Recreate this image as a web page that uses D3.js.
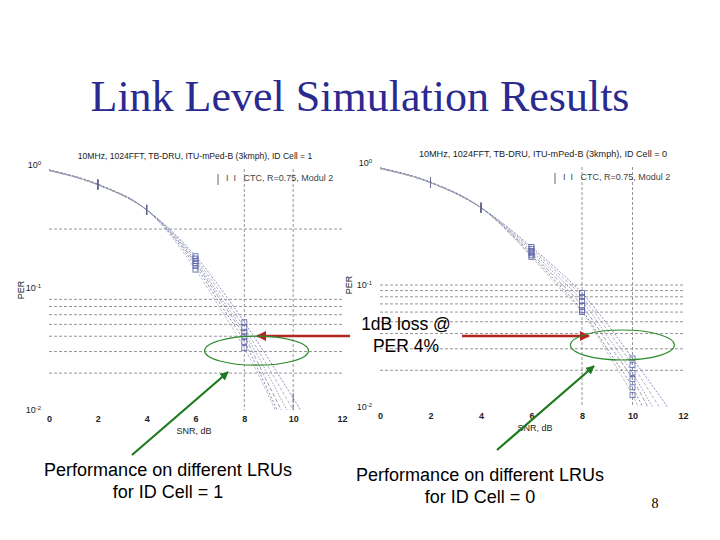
<!DOCTYPE html>
<html><head><meta charset="utf-8">
<script src="https://cdn.jsdelivr.net/npm/d3@7"></script>
<style>body{margin:0;background:#fff}svg{display:block}</style>
</head><body><svg id="s" width="720" height="540"></svg>
<script>
// ---------- data ----------
const snrPoints = [0, 2, 4, 6, 7, 8, 9, 10, 11, 12];
const xTickValues = [0, 2, 4, 6, 8, 10, 12];
const yTickValues = [1, 0.1, 0.01];
const yTickExponents = ["0", "-1", "-2"];

const cell1Per = [
  [0.91, 0.69, 0.43, 0.180, 0.100, 0.052, 0.026, 0.0125, 0.006, 0.003],
  [0.91, 0.69, 0.43, 0.172, 0.092, 0.047, 0.022, 0.0100, 0.0045, 0.002],
  [0.91, 0.69, 0.43, 0.165, 0.085, 0.043, 0.019, 0.0080, 0.0035, 0.0015],
  [0.90, 0.69, 0.43, 0.158, 0.080, 0.040, 0.016, 0.0065, 0.003, 0.0012],
  [0.91, 0.70, 0.43, 0.150, 0.074, 0.036, 0.014, 0.0052, 0.002, 0.001],
  [0.90, 0.69, 0.43, 0.140, 0.068, 0.032, 0.013, 0.0045, 0.0015, 0.001]
];
const cell0Per = [
  [0.91, 0.69, 0.43, 0.205, 0.135, 0.086, 0.048, 0.025, 0.013, 0.0065],
  [0.91, 0.69, 0.43, 0.198, 0.128, 0.080, 0.043, 0.022, 0.0105, 0.005],
  [0.91, 0.69, 0.43, 0.190, 0.120, 0.074, 0.038, 0.019, 0.0085, 0.004],
  [0.90, 0.69, 0.43, 0.182, 0.112, 0.068, 0.034, 0.017, 0.0070, 0.003],
  [0.91, 0.70, 0.43, 0.175, 0.105, 0.062, 0.030, 0.0145, 0.0055, 0.002],
  [0.90, 0.69, 0.43, 0.170, 0.100, 0.060, 0.028, 0.0125, 0.0045, 0.0015]
];
const cell1TickSnr = [2, 4, 10];
const cell1SquareSnr = [6, 8];
const cell0TickSnr = [2, 4];
const cell0SquareSnr = [6, 8, 10];
const cell1GridPer = [0.3, 0.08, 0.07, 0.06, 0.05, 0.04, 0.03, 0.02];
const cell0GridPer = [0.1, 0.09, 0.08, 0.07, 0.06, 0.05, 0.04, 0.03, 0.02];
const vGridSnr = [8, 10];

const slideTitle = "Link Level Simulation Results";
const cell1Title = "10MHz, 1024FFT, TB-DRU, ITU-mPed-B (3kmph), ID Cell = 1";
const cell0Title = "10MHz, 1024FFT, TB-DRU, ITU-mPed-B (3kmph), ID Cell = 0";
const legendText = "CTC, R=0.75, Modul 2";
const xLabel = "SNR, dB";
const yLabel = "PER";
const noteLines = ["1dB loss @", "PER 4%"];
const cell1Caption = ["Performance on different LRUs", "for ID Cell = 1"];
const cell0Caption = ["Performance on different LRUs", "for ID Cell = 0"];
const pageNumber = "8";

// ---------- drawing ----------
const svg = d3.select("#s");
const defs = svg.append("defs");
function marker(id, color) {
  defs.append("marker").attr("id", id).attr("viewBox", "0 0 10 10")
    .attr("refX", 9).attr("refY", 5).attr("markerWidth", 4).attr("markerHeight", 4)
    .attr("orient", "auto-start-reverse").attr("markerUnits", "strokeWidth")
    .append("path").attr("d", "M0,0L10,5L0,10z").attr("fill", color);
}
marker("ar", "#b3261e");
marker("ag", "#1e7a1e");

svg.append("text").attr("x", 360).attr("y", 111).attr("text-anchor", "middle")
  .attr("font-family", "Liberation Serif, Times New Roman, serif").attr("font-size", 44)
  .attr("fill", "#2a2a90").text(slideTitle);

const seriesColors = ["#6b73b6", "#a0a0a0", "#7a80c0", "#8c8c8c", "#5c64b0", "#b0b0b0"];
const seriesDash = ["2,1.5", "3,2", "1.5,1.5", "4,2", "2,2", "3,1.5"];

function chart(cfg) {
  const x = d3.scaleLinear().domain([0, 12]).range([cfg.x0, cfg.x1]);
  const y = d3.scaleLog().domain([1, 0.01]).range([cfg.yTop, cfg.yBot]);
  const g = svg.append("g");
  const clipId = "c" + cfg.id;
  defs.append("clipPath").attr("id", clipId).append("rect")
    .attr("x", cfg.x0).attr("y", cfg.yTop).attr("width", cfg.x1 - cfg.x0).attr("height", cfg.yBot - cfg.yTop);

  // grid
  g.selectAll(".hg").data(cfg.grid).join("line")
    .attr("x1", cfg.x0).attr("x2", cfg.x1).attr("y1", d => y(d)).attr("y2", d => y(d))
    .attr("stroke", "#8a8a8a").attr("stroke-width", 0.9).attr("stroke-dasharray", "3,2");
  g.selectAll(".vg").data(vGridSnr).join("line")
    .attr("x1", d => x(d)).attr("x2", d => x(d)).attr("y1", cfg.yTop + 4).attr("y2", cfg.yBot)
    .attr("stroke", "#8a8a8a").attr("stroke-width", 0.9).attr("stroke-dasharray", "3,2");

  // curves
  const line = d3.line().x((d, i) => x(snrPoints[i])).y(d => y(d)).curve(d3.curveMonotoneX);
  const cg = g.append("g").attr("clip-path", `url(#${clipId})`);
  cg.selectAll("path").data(cfg.per).join("path")
    .attr("d", line).attr("fill", "none")
    .attr("stroke", (d, i) => seriesColors[i]).attr("stroke-width", 0.8)
    .attr("stroke-dasharray", (d, i) => seriesDash[i]);

  // markers
  const pts = (snrs) => snrs.flatMap(s => cfg.per.map(p => ({ s, v: p[snrPoints.indexOf(s)] })));
  cg.selectAll(".tk").data(pts(cfg.ticks)).join("line")
    .attr("x1", d => x(d.s)).attr("x2", d => x(d.s))
    .attr("y1", d => y(d.v) - 5).attr("y2", d => y(d.v) + 5)
    .attr("stroke", "#666a90").attr("stroke-width", 0.9);
  cg.selectAll(".sq").data(pts(cfg.squares)).join("rect")
    .attr("x", d => x(d.s) - 2.5).attr("y", d => y(d.v) - 2.5).attr("width", 5).attr("height", 5)
    .attr("fill", "none").attr("stroke", "#5a62a8").attr("stroke-width", 0.8);

  // axes
  const ax = g.append("g").attr("transform", `translate(0,${cfg.yBot + 3})`)
    .call(d3.axisBottom(x).tickValues(xTickValues).tickSize(0).tickFormat(d3.format("d")));
  ax.select(".domain").remove();
  ax.selectAll("text").attr("font-family", "Liberation Sans, Arial, sans-serif")
    .attr("font-size", 9).attr("font-weight", "bold").attr("fill", "#222");

  const ay = g.append("g").attr("transform", `translate(${cfg.x0 - 5},0)`)
    .call(d3.axisLeft(y).tickValues(yTickValues).tickSize(0).tickFormat(() => ""));
  ay.select(".domain").remove();
  ay.selectAll("text").each(function (d, i) {
    const t = d3.select(this).attr("font-family", "Liberation Sans, Arial, sans-serif")
      .attr("font-size", 9).attr("fill", "#222").attr("dy", "0.32em");
    t.append("tspan").text("10");
    t.append("tspan").attr("dy", "-0.5em").attr("font-size", 6).text(yTickExponents[i]);
  });

  g.append("text").attr("x", cfg.titleX).attr("y", cfg.titleY).attr("text-anchor", "middle")
    .attr("font-family", "Liberation Sans, Arial, sans-serif").attr("font-size", cfg.titleSize)
    .attr("fill", "#222").text(cfg.title);

  // legend
  g.append("line").attr("x1", cfg.legX).attr("x2", cfg.legX).attr("y1", cfg.legY - 7).attr("y2", cfg.legY + 4)
    .attr("stroke", "#555").attr("stroke-width", 0.9);
  g.append("text").attr("x", cfg.legX + 8).attr("y", cfg.legY)
    .attr("font-family", "Liberation Sans, Arial, sans-serif").attr("font-size", 9).attr("fill", "#444")
    .attr("xml:space", "preserve").text("I  I   " + legendText);

  g.append("text").attr("x", cfg.xLabX).attr("y", cfg.xLabY).attr("text-anchor", "middle")
    .attr("font-family", "Liberation Sans, Arial, sans-serif").attr("font-size", 9).attr("fill", "#222").text(xLabel);
  g.append("text").attr("transform", `translate(${cfg.yLabX},${cfg.yLabY}) rotate(-90)`).attr("text-anchor", "middle")
    .attr("font-family", "Liberation Sans, Arial, sans-serif").attr("font-size", 9).attr("fill", "#222").text(yLabel);
  return { x, y };
}

const c1 = chart({ id: 1, x0: 49, x1: 342, yTop: 165, yBot: 410, per: cell1Per, grid: cell1GridPer,
  ticks: cell1TickSnr, squares: cell1SquareSnr, title: cell1Title, titleX: 195, titleY: 159, titleSize: 8.6,
  legX: 218, legY: 181, xLabX: 194, xLabY: 434, yLabX: 24, yLabY: 290 });
const c0 = chart({ id: 0, x0: 380, x1: 683, yTop: 163, yBot: 407, per: cell0Per, grid: cell0GridPer,
  ticks: cell0TickSnr, squares: cell0SquareSnr, title: cell0Title, titleX: 543, titleY: 157, titleSize: 9.1,
  legX: 555, legY: 180, xLabX: 535, xLabY: 431, yLabX: 352, yLabY: 285 });

// annotations
const font = "Liberation Sans, Arial, sans-serif";
svg.selectAll(".note").data(noteLines).join("text")
  .attr("x", 406).attr("y", (d, i) => 330 + i * 22).attr("text-anchor", "middle")
  .attr("font-family", font).attr("font-size", 17.5).attr("fill", "#000").text(d => d);

svg.append("line").attr("x1", 350).attr("x2", 257).attr("y1", 336).attr("y2", 336)
  .attr("stroke", "#b3261e").attr("stroke-width", 2.5).attr("marker-end", "url(#ar)");
svg.append("line").attr("x1", 462).attr("x2", 589).attr("y1", 336).attr("y2", 336)
  .attr("stroke", "#b3261e").attr("stroke-width", 2.5).attr("marker-end", "url(#ar)");

svg.append("ellipse").attr("cx", c1.x(8.5)).attr("cy", c1.y(0.0305)).attr("rx", 52).attr("ry", 14.5)
  .attr("fill", "none").attr("stroke", "#2a8a2a").attr("stroke-width", 1.1);
svg.append("ellipse").attr("cx", c0.x(9.6)).attr("cy", c0.y(0.0322)).attr("rx", 52).attr("ry", 15)
  .attr("fill", "none").attr("stroke", "#2a8a2a").attr("stroke-width", 1.1);

svg.append("line").attr("x1", 132).attr("y1", 455).attr("x2", 228).attr("y2", 372)
  .attr("stroke", "#1e7a1e").attr("stroke-width", 2.2).attr("marker-end", "url(#ag)");
svg.append("line").attr("x1", 497).attr("y1", 450).attr("x2", 594).attr("y2", 366)
  .attr("stroke", "#1e7a1e").attr("stroke-width", 2.2).attr("marker-end", "url(#ag)");

svg.selectAll(".cap1").data(cell1Caption).join("text")
  .attr("x", 168).attr("y", (d, i) => 476 + i * 22).attr("text-anchor", "middle")
  .attr("font-family", font).attr("font-size", 18).attr("fill", "#000").text(d => d);
svg.selectAll(".cap0").data(cell0Caption).join("text")
  .attr("x", 480).attr("y", (d, i) => 481 + i * 22).attr("text-anchor", "middle")
  .attr("font-family", font).attr("font-size", 18).attr("fill", "#000").text(d => d);
svg.append("text").attr("x", 655).attr("y", 508).attr("text-anchor", "middle")
  .attr("font-family", "Liberation Serif, serif").attr("font-size", 14).attr("fill", "#000").text(pageNumber);
</script>
</body></html>
